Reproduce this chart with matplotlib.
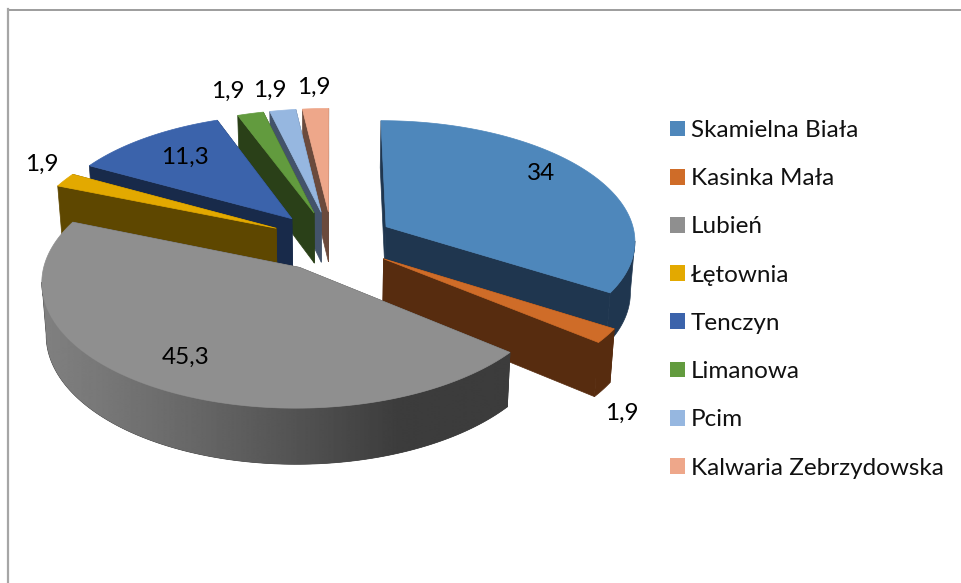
import numpy as np
import matplotlib
matplotlib.use("Agg")
import matplotlib.pyplot as plt
from matplotlib.patches import Patch, Polygon

places = ["Skamielna Biała", "Kasinka Mała", "Lubień", "Łętownia", "Tenczyn",
          "Limanowa", "Pcim", "Kalwaria Zebrzydowska"]
values = [34, 1.9, 45.3, 1.9, 11.3, 1.9, 1.9, 1.9]
value_labels = ["34", "1,9", "45,3", "1,9", "11,3", "1,9", "1,9", "1,9"]

top_colors = ["#4e87bb", "#cf6c28", "#8f8f8f", "#e3a900", "#3b63ab", "#629b3e", "#96b7e0", "#eea78a"]
side_colors = ["#1f364f", "#572c0f", "#3c3c3c", "#5e4700", "#182a4a", "#2a4018", "#43536a", "#6b4a3c"]

# layout of the fake 3d pie, in pixels of the 962x583 picture
CX, CY = 332, 241
RX, RY = 250, 120
EXPLODE = 0.25
P = 0.105
DEPTH, Q = 51, 0.075
label_pos = [(541, 174), (622, 413), (186, 357), (42, 164), (185, 157), (228, 91), (270, 90), (314, 87)]
FONT = "Lato"
FS = 17.5


def project(u, v):
    w = 1 + P * v
    return CX + RX * u / w, CY - RY * v / w


def drop(u, v):
    # same point on the lower face of the slice
    x, y = project(u, v)
    return CX + (x - CX) * 0.985, y + DEPTH / (1 + Q * v)


fig = plt.figure(figsize=(9.62, 5.83), dpi=100)
ax = fig.add_axes([0, 0, 1, 1])

# chart frame, only top and left are in the picture
ax.plot([8, 962], [9.5, 9.5], color="#8c8c8c", lw=1.2)
ax.plot([8.5, 8.5], [9, 583], color="#a6a6a6", lw=1.6)

fractions = np.array(values) / np.sum(values)
edges = np.concatenate([[0], np.cumsum(fractions)]) * 2 * np.pi
mids = (edges[:-1] + edges[1:]) / 2

# gradient for the wall of the big gray slice
xs = np.arange(30, 520)
gray = np.interp(xs, [42, 100, 200, 300, 400, 510], [0x80, 0x78, 0x66, 0x52, 0x3c, 0x3c]) / 255

# back to front
order = [7, 6, 5, 0, 4, 3, 1, 2]
for n, i in enumerate(order):
    z = 2 + n
    a0, a1 = edges[i], edges[i + 1]
    ou = EXPLODE * np.sin(mids[i])
    ov = EXPLODE * np.cos(mids[i])
    ang = np.linspace(a0, a1, 160)
    us = ou + np.sin(ang)
    vs = ov + np.cos(ang)

    top = [project(ou, ov)] + [project(u, v) for u, v in zip(us, vs)]
    side = side_colors[i]

    # radial faces
    for u, v in [(us[0], vs[0]), (us[-1], vs[-1])]:
        face = [project(ou, ov), project(u, v), drop(u, v), drop(ou, ov)]
        ax.add_patch(Polygon(face, closed=True, fc=side, ec=side, lw=0.5, zorder=z))

    # outer wall, only the part in front of the widest point shows
    px = np.array([project(u, v)[0] for u, v in zip(us, vs)])
    widest = np.argmax(np.abs(px - CX))
    front = vs <= vs[widest]
    if front.sum() > 1:
        fu, fv = us[front], vs[front]
        wall = [project(u, v) for u, v in zip(fu, fv)] + [drop(u, v) for u, v in zip(fu[::-1], fv[::-1])]
        wall = Polygon(wall, closed=True, fc=side, ec=side, lw=0.5, zorder=z)
        ax.add_patch(wall)
        if i == 2:
            im = ax.imshow(gray[np.newaxis, :], cmap="gray", vmin=0, vmax=1, aspect="auto",
                           extent=(xs[0], xs[-1], 480, 200), zorder=z)
            im.set_clip_path(wall)

    ax.add_patch(Polygon(top, closed=True, fc=top_colors[i], ec=top_colors[i], lw=0.5, zorder=z + 0.5))

ax.set_xlim(0, 962)
ax.set_ylim(583, 0)
ax.axis("off")

for txt, (x, y) in zip(value_labels, label_pos):
    ax.text(x, y, txt, ha="center", va="center", fontsize=FS, family=FONT, color="black", zorder=20)

handles = [Patch(fc=c, ec=c, lw=0) for c in top_colors]
leg = ax.legend(handles, places, loc="upper left", bbox_to_anchor=(670 / 962, 1 - 120 / 583),
                frameon=False, prop={"family": FONT, "size": FS},
                borderpad=0, borderaxespad=0, handlelength=0.62, handleheight=0.62,
                handletextpad=0.24, labelspacing=1.12)
for t in leg.get_texts():
    t.set_color("#111111")

fig.savefig("out.png", dpi=100)
